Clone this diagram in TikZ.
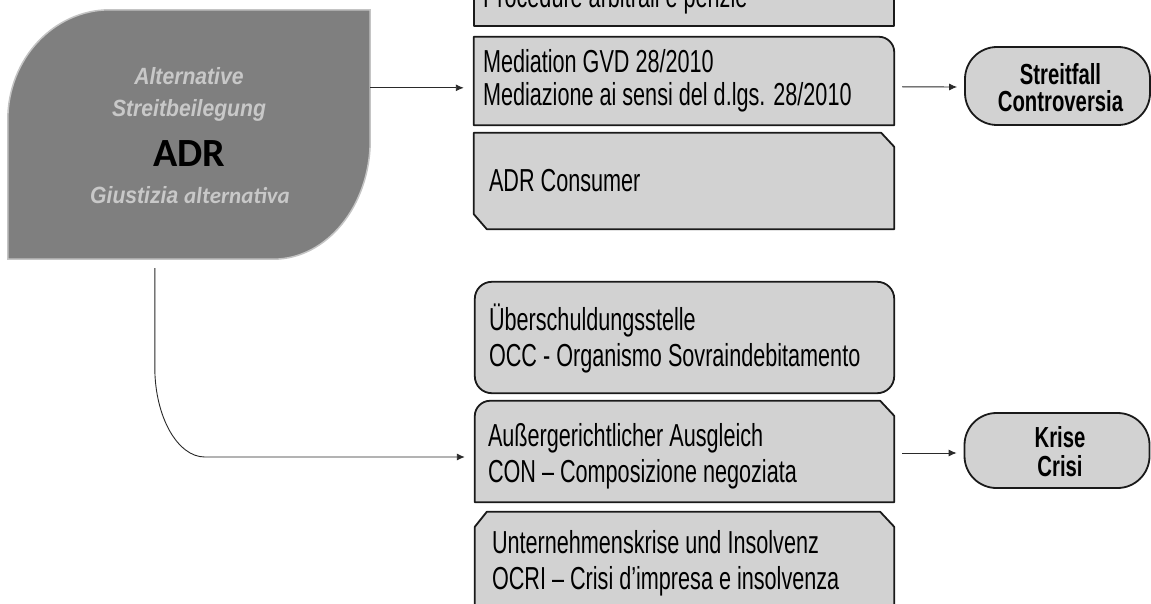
\documentclass[tikz,border=0pt]{standalone}
\usepackage{fontspec}
\setmainfont{Liberation Sans}
\newfontfamily\boxfont{Liberation Sans}[FakeStretch=0.68]
\newfontfamily\pillfont{Liberation Sans}[FakeStretch=0.70]
\newfontfamily\adrfont{Liberation Sans}[FakeStretch=0.9]
\newfontfamily\carl{Carlito}
\usetikzlibrary{arrows.meta,calc}
\definecolor{boxgray}{HTML}{D2D2D2}
\definecolor{adrgray}{HTML}{7F7F7F}
\definecolor{adrborder}{HTML}{C4C4C4}
\definecolor{adrtext}{HTML}{C8C8C8}
\definecolor{edge}{HTML}{1A1A1A}
\definecolor{arrowc}{HTML}{2A2A2A}
\begin{document}
\begin{tikzpicture}[x=1pt,y=-1pt,
  frame/.style={draw=none,minimum width=420pt,inner sep=0pt},
  outline/.style={draw=edge,fill=boxgray,line width=1.8pt,line join=round},
  txt/.style={anchor=base west,inner sep=0pt,align=left,font=\boxfont\fontsize{31.8}{36}\selectfont,text=black},
  adrt/.style={anchor=base,inner sep=0pt,text=adrtext,font=\adrfont\bfseries\itshape\fontsize{23.5}{26}\selectfont},
  pill/.style={draw=edge,fill=boxgray,line width=1.8pt,rounded corners=32pt,minimum width=185pt,inner sep=0pt},
  pilltxt/.style={anchor=base,inner sep=0pt,align=center,font=\pillfont\bfseries\fontsize{29}{28}\selectfont},
  conn/.style={draw=arrowc,line width=0.9pt,-{Latex[length=8pt,width=7pt]}}]
\clip (0,0) rectangle (1151,604);
\fill[white] (0,0) rectangle (1151,604);

% ADR shape
\node[draw=none,minimum width=362pt,minimum height=249pt,inner sep=0pt] (adr) at (189,134.5) {};
\draw[fill=adrgray,draw=adrborder,line width=1.5pt]
  (adr.south west) -- ($(adr.north west)+(0,110)$)
  .. controls +(0,-61) and +(-56,0) .. ($(adr.north west)+(102,0)$)
  -- (adr.north east) -- ($(adr.south east)+(0,-119)$)
  .. controls +(0,65) and +(54,0) .. ($(adr.south east)+(-97,0)$) -- cycle;
\node[adrt] (adr1) at ($(adr.north)+(0,75)$) {Alternative};
\node[adrt] (adr2) at ($(adr.north)+(0,107)$) {Streitbeilegung};
\node[anchor=base,inner sep=0pt,text=black,font=\carl\bfseries\fontsize{40}{42}\selectfont] (adr3) at ($(adr.north)+(0,157)$) {ADR};
\node[adrt] (adr4) at ($(adr.north)+(1,194)$) {Giustizia {\carl\fontsize{23}{24}\selectfont alternativa}};

% boxes
\node[frame,minimum height=60pt] (proc) at (684,-4) {};
\draw[outline] (proc.south west) rectangle (proc.north east);
\node[txt] at ($(proc.south west)+(9,-19)$) {Procedure arbitrali e perizie};

\node[frame,minimum height=88pt] (med) at (684,81) {};
\draw[outline] (med.south west) -- (med.north west) -- ($(med.north east)+(-15,0)$)
  .. controls +(8,0) and +(0,-8) .. ($(med.north east)+(0,15)$) -- (med.south east) -- cycle;
\node[txt] at ($(med.north west)+(9,69)$) {Mediation GVD 28/2010\\[-3pt]Mediazione ai sensi del d.lgs. 28/2010};

\node[frame,minimum height=96pt] (cons) at (684,181) {};
\draw[outline] (cons.north west) -- ($(cons.north east)+(-13,0)$) -- ($(cons.north east)+(0,14)$)
  -- (cons.south east) -- ($(cons.south west)+(13,0)$) -- ($(cons.south west)+(0,-15)$) -- cycle;
\node[txt] at ($(cons.north west)+(15,59)$) {ADR Consumer};

\node[frame,minimum width=419pt,minimum height=111pt] (occ) at (684.5,337.5) {};
\draw[outline,rounded corners=17pt] (occ.north west) rectangle (occ.south east);
\node[txt] at ($(occ.north west)+(14,85)$) {Überschuldungsstelle\\OCC - Organismo Sovraindebitamento};

\node[frame,minimum width=419pt,minimum height=101pt] (con) at (684.5,451.5) {};
\draw[outline] (con.south west) -- ($(con.north west)+(0,15)$)
  .. controls +(0,-8) and +(-8,0) .. ($(con.north west)+(15,0)$)
  -- ($(con.north east)+(-14,0)$) -- ($(con.north east)+(0,15)$) -- (con.south east) -- cycle;
\node[txt] at ($(con.north west)+(13,82)$) {Außergerichtlicher Ausgleich\\CON – Composizione negoziata};

\node[frame,minimum width=419pt,minimum height=118pt] (ocri) at (684.5,571) {};
\draw[outline] (ocri.south west) -- ($(ocri.north west)+(0,15)$) -- ($(ocri.north west)+(12,0)$)
  -- ($(ocri.north east)+(-14,0)$) -- ($(ocri.north east)+(0,15)$) -- (ocri.south east) -- cycle;
\node[txt] at ($(ocri.north west)+(17,78)$) {Unternehmenskrise und Insolvenz\\OCRI – Crisi d’impresa e insolvenza};

% pills
\node[pill,minimum height=78pt] (streit) at (1057.5,86) {};
\node[pilltxt] at ($(streit.north)+(3,65)$) {Streitfall\\[-1pt]Controversia};
\node[pill,minimum height=75pt] (krise) at (1057,450.5) {};
\node[pilltxt] at ($(krise.north)+(3,64)$) {Krise\\[1pt]Crisi};

% connectors
\draw[conn] ($(adr.north east)+(0,78)$) -- ($(med.north west)+(-10,51)$);
\draw[conn] ($(med.north east)+(8,50)$) -- ($(streit.west)+(-7,1)$);
\draw[conn] ($(adr.south west)+(147,9)$) -- ++(0,99)
  .. controls +(0,50) and +(-27,0) .. ($(con.west)+(-270,5.5)$) -- ($(con.west)+(-10,5.5)$);
\draw[conn] ($(con.east)+(8,1.5)$) -- ($(krise.west)+(-7,2.5)$);
\end{tikzpicture}
\end{document}
